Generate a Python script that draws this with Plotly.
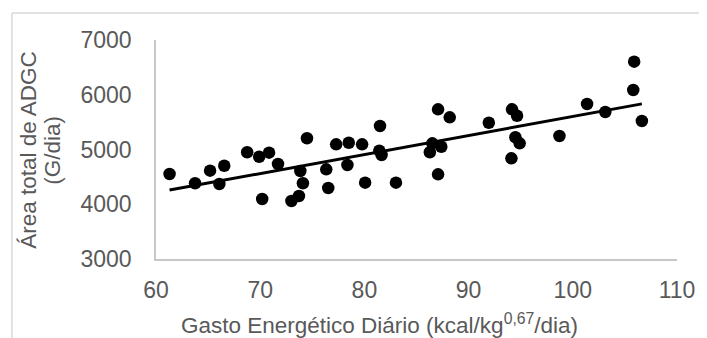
import numpy as np
import plotly.graph_objects as go

gasto = [61.3, 63.75, 65.19, 66.55, 66.08, 68.75, 69.9, 70.85, 70.19, 71.71,
         73.0, 73.72, 73.85, 74.1, 74.49, 76.34, 76.53, 77.29, 78.5, 79.78,
         78.37, 80.07, 81.5, 81.43, 81.65, 83.03, 87.07, 88.19, 86.52, 86.28,
         87.38, 87.07, 91.94, 94.17, 94.65, 94.49, 94.9, 94.11, 98.72, 101.37,
         103.12, 105.89, 105.8, 106.63]
area = [4552, 4383, 4613, 4704, 4370, 4949, 4868, 4942, 4096, 4735,
        4059, 4151, 4607, 4383, 5205, 4638, 4297, 5095, 5124, 5095,
        4717, 4394, 5429, 4978, 4900, 4394, 5734, 5588, 5113, 4949,
        5051, 4547, 5489, 5734, 5617, 5223, 5113, 4839, 5247, 5831,
        5685, 6604, 6087, 5521]

x_ticks = [60, 70, 80, 90, 100, 110]
y_ticks = [3000, 4000, 5000, 6000, 7000]

slope, intercept = np.polyfit(gasto, area, 1)
trend_x = [min(gasto), max(gasto)]
trend_y = [slope * v + intercept for v in trend_x]

FONT = "Liberation Sans, Arial, sans-serif"
TXT = "#595959"
AX = "#c8c8c8"

fig = go.Figure()
fig.add_trace(go.Scatter(x=gasto, y=area, mode="markers",
                         marker=dict(size=12.5, color="black"), showlegend=False))
fig.add_trace(go.Scatter(x=trend_x, y=trend_y, mode="lines",
                         line=dict(color="black", width=3), showlegend=False))

fig.update_layout(
    width=699, height=330,
    margin=dict(l=148, r=28, t=32, b=79),
    paper_bgcolor="white", plot_bgcolor="white",
    font=dict(family=FONT, size=22, color=TXT),
    xaxis=dict(range=[60, 110], tickvals=x_ticks, showgrid=False, zeroline=False,
               showline=True, linecolor=AX, linewidth=1.5, ticks="",
               ticklabelstandoff=10, tickfont=dict(size=23, color=TXT)),
    yaxis=dict(range=[3000, 7000], tickvals=y_ticks, showgrid=False, zeroline=False,
               showline=True, linecolor=AX, linewidth=1.5, ticks="",
               ticklabelstandoff=18, tickfont=dict(size=23, color=TXT)),
    annotations=[
        dict(text="Gasto Energético Diário (kcal/kg<sup>0,67</sup>/dia)",
             xref="paper", yref="paper", x=0.4286, y=-0.296,
             xanchor="center", yanchor="middle", showarrow=False,
             font=dict(size=22.5, color=TXT)),
        dict(text="Área total de ADGC",
             xref="paper", yref="paper", x=-0.2440, y=0.498,
             xanchor="center", yanchor="middle", textangle=-90, showarrow=False,
             font=dict(size=22.5, color=TXT)),
        dict(text="(G/dia)",
             xref="paper", yref="paper", x=-0.1982, y=0.498,
             xanchor="center", yanchor="middle", textangle=-90, showarrow=False,
             font=dict(size=22.5, color=TXT)),
    ],
    shapes=[
        dict(type="line", xref="paper", yref="paper", x0=-0.2765, x1=1.1,
             y0=1.1233, y1=1.1233, line=dict(color="#d9d9d9", width=1.5)),
        dict(type="line", xref="paper", yref="paper", x0=-0.2765, x1=-0.2765,
             y0=1.1233, y1=-0.45, line=dict(color="#d9d9d9", width=1.5)),
    ],
)

fig.write_html("out.html")
